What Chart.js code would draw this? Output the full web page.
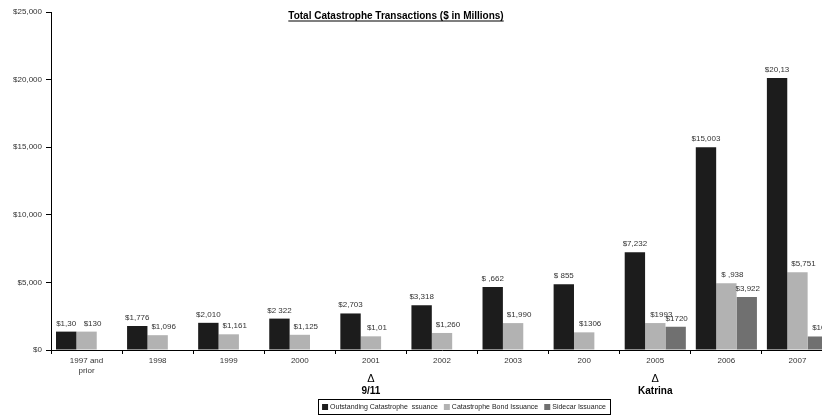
<!DOCTYPE html>
<html>
<head>
<meta charset="utf-8">
<script src="https://cdn.jsdelivr.net/npm/chart.js@4/dist/chart.umd.min.js"></script>
<style>
  html, body { margin: 0; padding: 0; background: #fff; overflow: hidden; }
  #wrap { width: 840px; height: 416px; }
</style>
</head>
<body>
<div id="wrap"><canvas id="chart" width="840" height="416"></canvas></div>
<script>
// Datos del gráfico
const categorias = [["1997 and", "prior"], "1998", "1999", "2000", "2001", "2002", "2003", "200", "2005", "2006", "2007"];
const outstanding = [1360, 1776, 2010, 2322, 2703, 3318, 4662, 4855, 7232, 15003, 20113];
const catBonds = [1360, 1096, 1161, 1125, 1011, 1260, 1990, 1306, 1993, 4938, 5751];
const sidecars = [null, null, null, null, null, null, null, null, 1720, 3922, 1000];

// Etiquetas tal como aparecen en la imagen
const etiquetasOutstanding = ["$1,30", "$1,776", "$2,010", "$2 322", "$2,703", "$3,318", "$ ,662", "$ 855", "$7,232", "$15,003", "$20,13"];
const etiquetasBonds = ["$130", "$1,096", "$1,161", "$1,125", "$1,01", "$1,260", "$1,990", "$1306", "$1993", "$ ,938", "$5,751"];
const etiquetasSidecar = [null, null, null, null, null, null, null, null, "$1720", "$3,922", "$10"];

const yTicks = [0, 5000, 10000, 15000, 20000, 25000];
const eventos = [{ idx: 4, texto: "9/11" }, { idx: 8, texto: "Katrina" }];
const titulo = "Total Catastrophe Transactions ($ in Millions)";

const FONT = "'Liberation Sans', Arial, sans-serif";
const colores = ["#1c1c1c", "#b2b2b2", "#707070"];
const etiquetas = [etiquetasOutstanding, etiquetasBonds, etiquetasSidecar];
const desplazamiento = [0, 6, 1];

// Etiquetas de valor sobre las barras
const valorPlugin = {
  id: "valores",
  afterDatasetsDraw(chart) {
    const ctx = chart.ctx;
    ctx.save();
    ctx.font = "8px " + FONT;
    ctx.fillStyle = "#333";
    ctx.textAlign = "center";
    ctx.textBaseline = "alphabetic";
    chart.data.datasets.forEach((ds, i) => {
      const meta = chart.getDatasetMeta(i);
      meta.data.forEach((bar, j) => {
        const txt = etiquetas[i][j];
        if (txt == null || ds.data[j] == null) return;
        ctx.fillText(txt, bar.x + desplazamiento[i], bar.y - 6);
      });
    });
    ctx.restore();
  }
};

// Título, eventos y leyenda
const extrasPlugin = {
  id: "extras",
  afterDraw(chart) {
    const ctx = chart.ctx;
    const x = chart.scales.x;
    ctx.save();

    // título subrayado
    ctx.font = "bold 10px " + FONT;
    ctx.fillStyle = "#000";
    ctx.textAlign = "center";
    ctx.textBaseline = "alphabetic";
    const tx = 396, ty = 19;
    ctx.fillText(titulo, tx, ty);
    const w = ctx.measureText(titulo).width;
    ctx.fillRect(tx - w / 2, ty + 1.5, w, 1);

    // eventos
    eventos.forEach(ev => {
      const px = x.getPixelForValue(ev.idx);
      ctx.font = "11px " + FONT;
      ctx.fillText("\u0394", px, 382);
      ctx.font = "bold 10px " + FONT;
      ctx.fillText(ev.texto, px, 394);
    });

    // leyenda
    ctx.font = "7px " + FONT;
    const items = chart.data.datasets.map(ds => ds.label);
    const box = 6, gap = 2, sep = 6, pad = 4;
    let total = pad * 2;
    items.forEach((t, i) => {
      total += box + gap + ctx.measureText(t).width + (i < items.length - 1 ? sep : 0);
    });
    const lx = 464 - total / 2, ly = 399, lh = 15;
    ctx.strokeStyle = "#000";
    ctx.lineWidth = 1;
    ctx.strokeRect(Math.round(lx) + 0.5, ly + 0.5, Math.round(total), lh);
    let cx = lx + pad;
    ctx.textAlign = "left";
    ctx.textBaseline = "middle";
    items.forEach((t, i) => {
      ctx.fillStyle = colores[i];
      ctx.fillRect(cx, ly + lh / 2 - box / 2 + 0.5, box, box);
      cx += box + gap;
      ctx.fillStyle = "#222";
      ctx.fillText(t, cx, ly + lh / 2 + 1);
      cx += ctx.measureText(t).width + sep;
    });
    ctx.restore();
  }
};

new Chart(document.getElementById("chart"), {
  type: "bar",
  data: {
    labels: categorias,
    datasets: [
      { label: "Outstanding Catastrophe  ssuance", data: outstanding, backgroundColor: colores[0] },
      { label: "Catastrophe Bond Issuance", data: catBonds, backgroundColor: colores[1] },
      { label: "Sidecar Issuance", data: sidecars, backgroundColor: colores[2] }
    ]
  },
  options: {
    responsive: false,
    animation: false,
    devicePixelRatio: 1,
    datasets: { bar: { categoryPercentage: 0.86, barPercentage: 1.0 } },
    layout: { padding: { top: 12, right: 7, left: 0, bottom: 0 } },
    plugins: {
      legend: { display: false },
      title: { display: false },
      tooltip: { enabled: false }
    },
    scales: {
      x: {
        grid: { offset: true, drawOnChartArea: false, tickLength: 4, color: "#000" },
        border: { color: "#000", width: 1 },
        ticks: { font: { family: FONT, size: 8 }, color: "#333", padding: 2, maxRotation: 0, autoSkip: false },
        afterFit(scale) { scale.height = 66; }
      },
      y: {
        min: 0,
        max: 25000,
        afterBuildTicks(scale) { scale.ticks = yTicks.map(v => ({ value: v })); },
        grid: { drawOnChartArea: false, tickLength: 5, color: "#000" },
        border: { color: "#000", width: 1 },
        ticks: {
          font: { family: FONT, size: 8 },
          color: "#333",
          padding: 4,
          callback: v => "$" + v.toLocaleString("en-US")
        },
        afterFit(scale) { scale.width = 51; }
      }
    }
  },
  plugins: [valorPlugin, extrasPlugin]
});
</script>
</body>
</html>
